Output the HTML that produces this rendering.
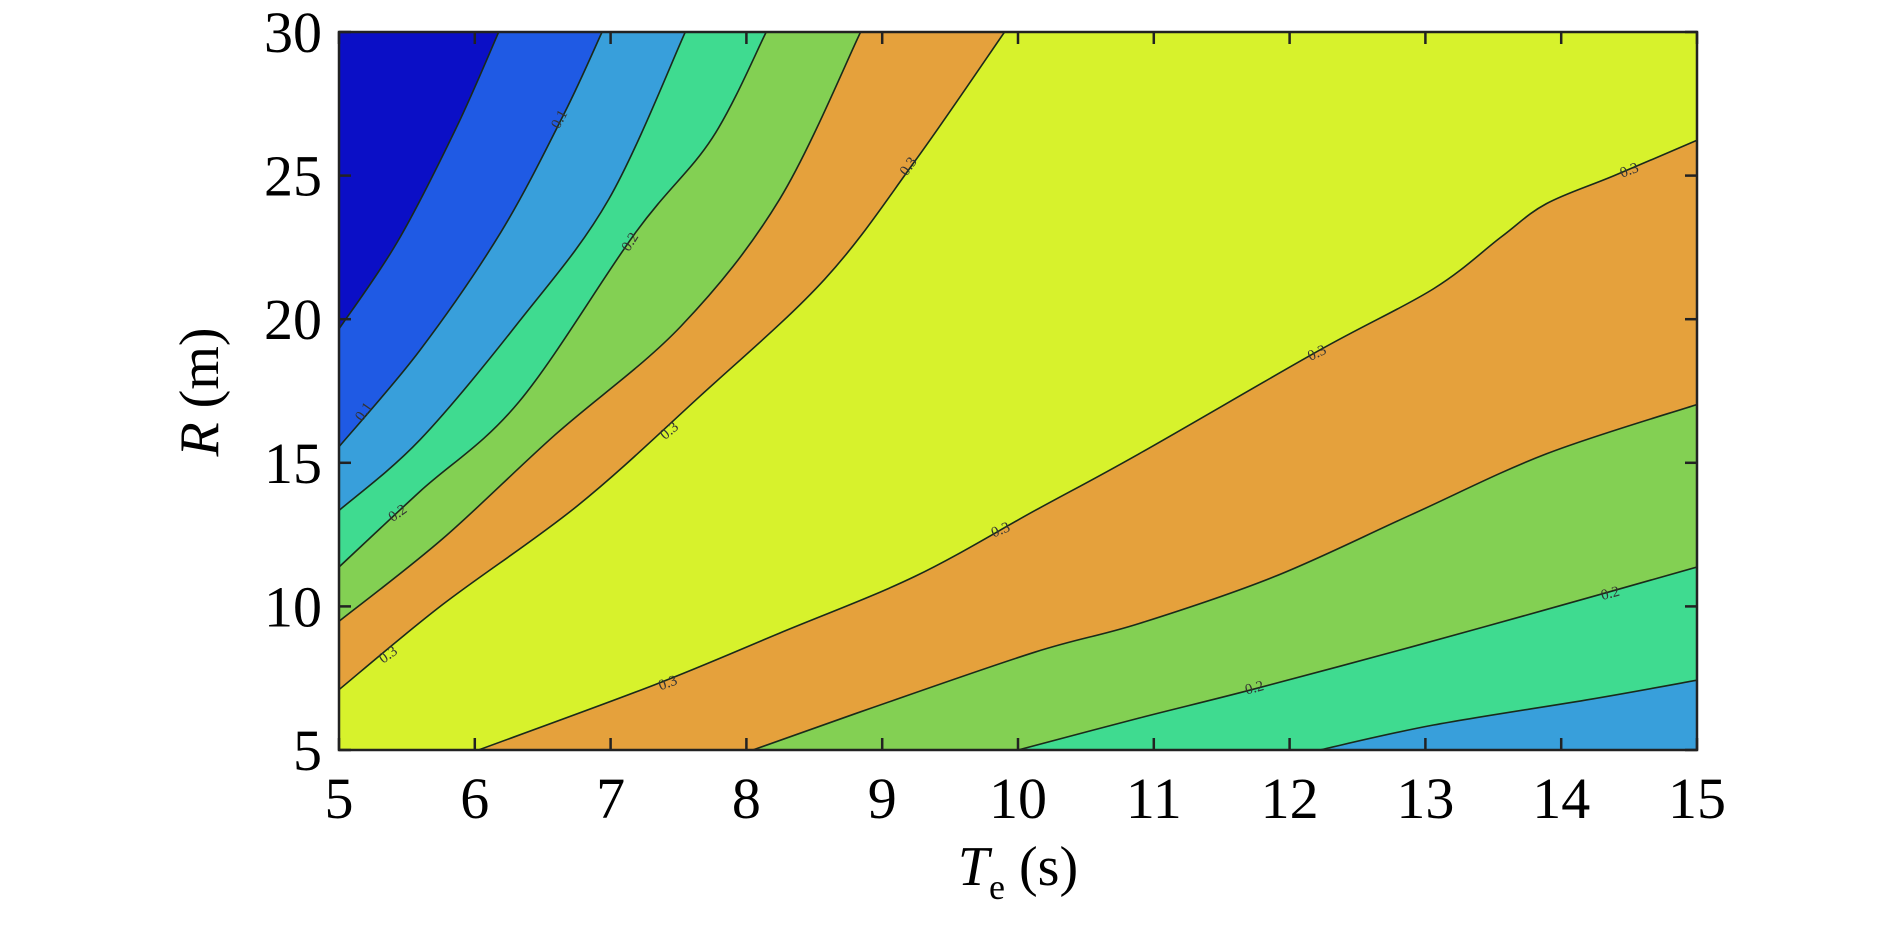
<!DOCTYPE html>
<html><head><meta charset="utf-8"><style>
html,body{margin:0;padding:0;background:#fff;}
svg{display:block;}
text{font-family:"Liberation Serif",serif;}
</style></head><body>
<svg id="chart" width="1890" height="928" viewBox="0 0 1890 928" xmlns="http://www.w3.org/2000/svg">
<defs><clipPath id="clip"><rect x="339" y="32" width="1358" height="718"/></clipPath></defs>
<g id="bands" clip-path="url(#clip)"></g>
<g id="lines" clip-path="url(#clip)"></g>
<g id="clabels"></g>
<rect x="339" y="32" width="1358" height="718" fill="none" stroke="#222" stroke-width="2.5"/>
<g id="axes"></g>
<text x="1018" y="885" font-size="56" text-anchor="middle"><tspan font-style="italic">T</tspan><tspan font-size="36" dy="14">e</tspan><tspan dy="-14"> (s)</tspan></text>
<text transform="translate(218,392) rotate(-90)" font-size="56" text-anchor="middle"><tspan font-style="italic">R</tspan> (m)</text>
</svg>
<script>
const xTicks=[5,6,7,8,9,10,11,12,13,14,15];
const yTicks=[5,10,15,20,25,30];
// contour lines, data coords [T, R]
const upperLines=[
 {name:'contour-orange',color:'#e5a13c',pts:[[5,7.10],[5.762,10.06],[6.755,13.50],[7.649,17.28],[8.576,21.39],[9.239,25.49],[9.901,30]]},
 {name:'contour-green',color:'#83d053',pts:[[5,9.48],[5.762,12.35],[6.590,15.97],[7.517,19.75],[8.245,24.18],[8.841,30]]},
 {name:'contour-teal',color:'#3fdb90',pts:[[5,11.37],[5.596,14.00],[6.325,17.12],[7.186,23.03],[7.749,26.31],[8.146,30]]},
 {name:'contour-lightblue',color:'#389fdb',pts:[[5,13.34],[5.596,15.80],[6.325,19.91],[6.987,24.18],[7.550,30]]},
 {name:'contour-blue',color:'#1f5ae4',pts:[[5,15.56],[5.596,18.92],[6.192,23.03],[6.656,27.14],[6.937,30]]},
 {name:'contour-darkblue',color:'#0b0fc6',pts:[[5,19.66],[5.431,22.70],[5.861,26.64],[6.176,30]]}
];
const lowerLines=[
 {name:'contour-orange-lower',color:'#e5a13c',pts:[[6.027,5],[7.318,7.26],[8.245,9.07],[9.239,11.04],[10.126,13.34],[10.89,15.31],[12.22,18.92],[13.06,21.06],[13.56,22.87],[13.89,24.02],[14.39,25.0],[15,26.23]]},
 {name:'contour-green-lower',color:'#83d053',pts:[[8.047,5],[8.908,6.44],[10.126,8.41],[10.89,9.40],[11.89,11.04],[12.89,13.18],[13.89,15.31],[15,17.03]]},
 {name:'contour-teal-lower',color:'#3fdb90',pts:[[10.0,5],[10.89,6.11],[11.72,7.10],[12.89,8.58],[13.89,9.89],[15,11.37]]},
 {name:'contour-lightblue-lower',color:'#389fdb',pts:[[12.22,5],[13.06,5.87],[14.22,6.77],[15,7.43]]}
];
const labelText=['0.1','0.1','0.2','0.2','0.3','0.3','0.3','0.3','0.3','0.3','0.3','0.2','0.2'];
const labelPos=[[6.62,26.97],[5.18,16.79],[7.14,22.7],[5.43,13.26],[9.19,25.33],[7.43,16.13],[5.36,8.33],[7.42,7.35],[9.87,12.68],[12.2,18.84],[14.5,25.2],[11.74,7.18],[14.36,10.47]];
const labelRot=[-62,-55,-58,-35,-55,-40,-35,-20,-22,-25,-20,-15,-15];

const X0=339,X1=1697,Y0=750,Y1=32;
const sx=t=>X0+(t-5)/(15-5)*(X1-X0);
const sy=r=>Y0-(r-5)/(30-5)*(Y0-Y1);
const NS='http://www.w3.org/2000/svg';
function mk(tag,attrs,parent){const e=document.createElementNS(NS,tag);for(const k in attrs)e.setAttribute(k,attrs[k]);parent.appendChild(e);return e;}
function curve(pts){
 const p=pts.map(d=>[sx(d[0]),sy(d[1])]);
 let s='M'+p[0][0]+','+p[0][1];
 for(let i=0;i<p.length-1;i++){
  const a=p[Math.max(0,i-1)],b=p[i],c=p[i+1],d=p[Math.min(p.length-1,i+2)];
  const c1=[b[0]+(c[0]-a[0])/6,b[1]+(c[1]-a[1])/6],c2=[c[0]-(d[0]-b[0])/6,c[1]-(d[1]-b[1])/6];
  s+=' C'+c1[0]+','+c1[1]+' '+c2[0]+','+c2[1]+' '+c[0]+','+c[1];
 }
 return s;
}
const bands=document.getElementById('bands'),lines=document.getElementById('lines');
const bg=mk('rect',{x:X0,y:Y1,width:X1-X0,height:Y0-Y1,fill:'#d7f22c'},bands);


upperLines.forEach(l=>{
 const e=mk('path',{d:curve(l.pts)+' L'+(sx(5)-5)+','+(sy(30)-5)+' Z',fill:l.color},bands);
 
 
});
lowerLines.forEach(l=>{
 const e=mk('path',{d:curve(l.pts)+' L'+(sx(15)+5)+','+(sy(5)+5)+' Z',fill:l.color},bands);
 
 
});
upperLines.concat(lowerLines).forEach(l=>{
 const e=mk('path',{d:curve(l.pts),fill:'none',stroke:'#1a2a1a','stroke-width':1.6},lines);
 
 
});
const cl=document.getElementById('clabels');
labelText.forEach((t,i)=>{
 const x=sx(labelPos[i][0]),y=sy(labelPos[i][1]);
 const e=mk('text',{x:x,y:y+5,'font-size':15,'text-anchor':'middle',fill:'#333',transform:'rotate('+labelRot[i]+' '+x+' '+y+')','font-family':'Liberation Sans, sans-serif'},cl);
 e.textContent=t;
 
 
});
const ax=document.getElementById('axes');
xTicks.forEach(t=>{
 const x=sx(t);
 const a=mk('line',{x1:x,x2:x,y1:Y0,y2:Y0-12,stroke:'#222','stroke-width':2.5},ax);
 
 
 const b=mk('line',{x1:x,x2:x,y1:Y1,y2:Y1+12,stroke:'#222','stroke-width':2.5},ax);
 
 
 const tx=mk('text',{x:x,y:818,'font-size':58,'text-anchor':'middle',fill:'#000'},ax);
 tx.textContent=t;
 
 
});
yTicks.forEach(r=>{
 const y=sy(r);
 const a=mk('line',{x1:X0,x2:X0+12,y1:y,y2:y,stroke:'#222','stroke-width':2.5},ax);
 
 
 const b=mk('line',{x1:X1,x2:X1-12,y1:y,y2:y,stroke:'#222','stroke-width':2.5},ax);
 
 
 const tx=mk('text',{x:322,y:y+20,'font-size':58,'text-anchor':'end',fill:'#000'},ax);
 tx.textContent=r;
 
 
});
</script>
</body></html>
